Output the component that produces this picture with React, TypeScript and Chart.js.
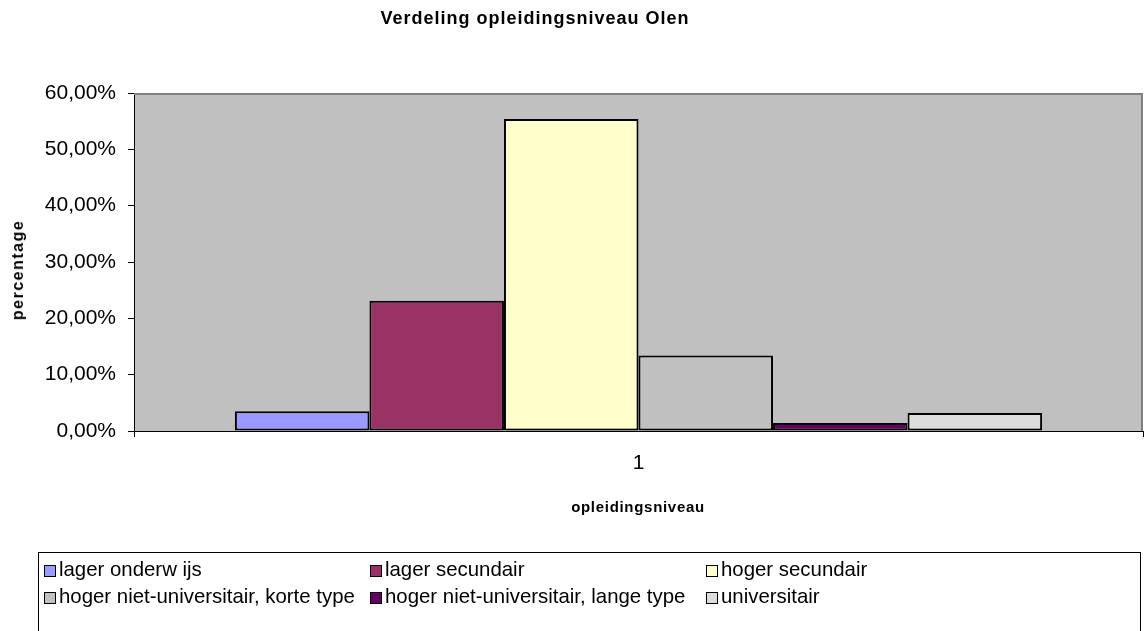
import React, { useEffect, useRef } from "react";
import { Chart, registerables } from "chart.js";

Chart.register(...registerables);

const chartTitle = "Verdeling opleidingsniveau Olen";
const xTitle = "opleidingsniveau";
const yTitle = "percentage";
const categories = ["1"];
const seriesNames = [
  "lager onderwijs",
  "lager secundair",
  "hoger secundair",
  "hoger niet-universitair, korte type",
  "hoger niet-universitair, lange type",
  "universitair",
];
const legendLabels = [
  "lager onderw ijs",
  "lager secundair",
  "hoger secundair",
  "hoger niet-universitair, korte type",
  "hoger niet-universitair, lange type",
  "universitair",
];
const seriesValues = [3.5, 23.1, 55.4, 13.4, 1.4, 3.2];
const seriesColors = ["#9999FF", "#993366", "#FFFFCC", "#C0C0C0", "#660066", "#DDDDDD"];
const yTicks = [0, 10, 20, 30, 40, 50, 60];

const FONT = "'Liberation Sans', Arial, sans-serif";

const plotBg = {
  id: "plotBg",
  beforeDraw(chart: any) {
    const { ctx, chartArea } = chart;
    ctx.save();
    ctx.fillStyle = "#C0C0C0";
    ctx.fillRect(chartArea.left, chartArea.top, chartArea.right - chartArea.left, chartArea.bottom - chartArea.top);
    ctx.restore();
  },
  afterDraw(chart: any) {
    const { ctx, chartArea } = chart;
    ctx.save();
    ctx.strokeStyle = "#808080";
    ctx.lineWidth = 2;
    ctx.beginPath();
    ctx.moveTo(chartArea.left, chartArea.top + 1);
    ctx.lineTo(chartArea.right - 1, chartArea.top + 1);
    ctx.lineTo(chartArea.right - 1, chartArea.bottom);
    ctx.stroke();
    ctx.restore();
  },
};

export default function App() {
  const ref = useRef<HTMLCanvasElement>(null);
  useEffect(() => {
    if (!ref.current) return;
    const chart = new Chart(ref.current, {
      type: "bar",
      data: {
        labels: categories,
        datasets: seriesNames.map((name, i) => ({
          label: name,
          data: [seriesValues[i]],
          backgroundColor: seriesColors[i],
          borderColor: "#000000",
          borderWidth: 2,
          borderSkipped: false,
          categoryPercentage: 0.8,
          barPercentage: 1.0,
        })),
      },
      options: {
        responsive: false,
        animation: false,
        devicePixelRatio: 1,
        layout: { padding: { left: 8, right: 1, top: 93, bottom: 100 } },
        plugins: {
          legend: { display: false },
          tooltip: { enabled: false },
          title: { display: false },
        },
        scales: {
          x: {
            offset: true,
            grid: { drawOnChartArea: false, drawTicks: true, tickLength: 6, color: "#000", offset: true },
            border: { display: true, color: "#000", width: 1 },
            ticks: { color: "#000", font: { family: FONT, size: 21 }, padding: 14 },
            afterFit(scale: any) {
              scale.height = 100;
            },
          },
          y: {
            min: 0,
            max: 60,
            afterBuildTicks(scale: any) {
              scale.ticks = yTicks.map((v) => ({ value: v }));
            },
            grid: { drawOnChartArea: false, drawTicks: true, tickLength: 6, color: "#000" },
            border: { display: true, color: "#000", width: 1 },
            ticks: {
              color: "#000",
              font: { family: FONT, size: 21 },
              padding: 12,
              callback: (v: any) => Number(v).toFixed(2).replace(".", ",") + "%",
            },
            afterFit(scale: any) {
              scale.width = 126;
            },
          },
        },
      },
      plugins: [plotBg],
    });
    return () => chart.destroy();
  }, []);

  const centered = (x: number, y: number, extra: any = {}) => ({
    position: "absolute" as const,
    left: x,
    top: y,
    transform: "translate(-50%, -50%)" + (extra.rotate ? " rotate(-90deg)" : ""),
    whiteSpace: "nowrap" as const,
    fontFamily: FONT,
    fontWeight: "bold" as const,
    color: "#000",
    lineHeight: 1,
    ...extra.style,
  });

  return (
    <div style={{ position: "absolute", left: 0, top: 0, width: 1144, height: 631, overflow: "hidden", background: "#fff" }}>
      <canvas ref={ref} width={1144} height={631} style={{ display: "block" }} />
      <div style={centered(535, 18, { style: { fontSize: 18, letterSpacing: "1px" } })}>{chartTitle}</div>
      <div style={centered(638, 506, { style: { fontSize: 15, letterSpacing: "0.7px" } })}>{xTitle}</div>
      <div style={centered(18, 270, { rotate: true, style: { fontSize: 16, letterSpacing: "1.5px" } })}>{yTitle}</div>
      <div
        style={{
          position: "absolute",
          left: 38,
          top: 552,
          width: 1103,
          height: 100,
          border: "1px solid #000",
          boxSizing: "border-box",
          padding: "3px 0 0 5px",
          fontFamily: FONT,
          fontSize: 20.4,
          color: "#000",
          display: "grid",
          gridTemplateColumns: "326px 336px auto",
          justifyContent: "start",
          gridAutoRows: "27px",
        }}
      >
        {legendLabels.map((lab, i) => (
          <div key={lab} style={{ display: "flex", alignItems: "center", whiteSpace: "pre" }}>
            <span
              style={{
                display: "inline-block",
                width: 12,
                height: 12,
                boxSizing: "border-box",
                background: seriesColors[i],
                border: "1px solid #000",
                marginRight: 3,
                marginTop: 3,
                flex: "none",
              }}
            />
            <span>{lab}</span>
          </div>
        ))}
      </div>
    </div>
  );
}
